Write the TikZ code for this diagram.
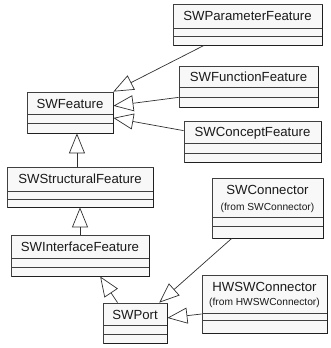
\documentclass[tikz,border=0pt]{standalone}
\usepackage{fontspec}
\setmainfont{Liberation Sans}
\usetikzlibrary{fit,calc,arrows.meta}

\definecolor{boxline}{HTML}{404040}
\definecolor{boxfill}{HTML}{F8F8F8}
\definecolor{shadowc}{HTML}{202020}
\definecolor{linec}{HTML}{303030}
\definecolor{textc}{HTML}{1A1A1A}

\tikzset{
  cls/.style={draw=boxline, fill=boxfill, line width=0.8pt, inner sep=0pt},
  divider/.style={draw=boxline, line width=0.8pt},
  boxshade/.style={draw=shadowc, line width=1.4pt},
  nametext/.style={font=\fontsize{13.2}{15}\selectfont, text=textc, inner sep=0pt},
  fromtext/.style={font=\fontsize{10.2}{12}\selectfont, text=textc, inner sep=0pt},
  inh/.style={draw=linec, line width=0.7pt,
    -{Triangle[open, length=20pt, width=16pt, line width=0.7pt]}},
}

% UML class box: name, top-left x y, bottom-right x y, two divider heights
\newcommand\umlclass[7]{%
  \node[cls, fit={(#2,#3) (#4,#5)}] (#1) {};
  \draw[boxshade] (#2+1,#5+0.6) -- (#4+0.6,#5+0.6) -- (#4+0.6,#3+1);
  \draw[divider] (#2,#6) -- (#4,#6);
  \draw[divider] (#2,#7) -- (#4,#7);
}

\begin{document}
\begin{tikzpicture}[x=1pt, y=-1pt]
\useasboundingbox (0,0) rectangle (330,348);

% class boxes
\umlclass{param}{173}{4}{322}{45}{28}{36}
\umlclass{func}{179}{66}{318}{107}{87}{97}
\umlclass{feat}{27}{92}{113}{133}{114}{123}
\umlclass{concept}{184}{121}{321}{162}{143}{153}
\umlclass{struct}{7}{167}{153}{207}{191}{199}
\umlclass{iface}{11}{235}{149}{276}{258}{267}
\umlclass{port}{103}{303}{167}{343}{325}{334}
\umlclass{sconn}{212}{178}{323}{238}{217}{226}
\umlclass{hwsw}{202}{275}{327}{333}{313}{320}

% class names
\node[nametext] (paramname) at (247.5,16) {SWParameterFeature};
\node[nametext] (funcname) at (248.5,77) {SWFunctionFeature};
\node[nametext] (featname) at (70,104) {SWFeature};
\node[nametext] (conceptname) at (252.5,133) {SWConceptFeature};
\node[nametext] (structname) at (80,179) {SWStructuralFeature};
\node[nametext] (ifacename) at (80,247) {SWInterfaceFeature};
\node[nametext] (portname) at (135,315) {SWPort};
\node[nametext] (sconnname) at (267.5,190) {SWConnector};
\node[fromtext] (sconnfrom) at (267.5,208) {(from SWConnector)};
\node[nametext] (hwswname) at (264.5,287) {HWSWConnector};
\node[fromtext] (hwswfrom) at (264.5,303) {(from HWSWConnector)};

% generalisations
\draw[inh] ($(param.south west)!0.21!(param.south east)$) -- (feat.north east);
\draw[inh] ($(func.north west)!0.76!(func.south west)$) -- ($(feat.north east)!0.34!(feat.south east)$);
\draw[inh] ($(concept.north west)!0.24!(concept.south west)$) -- ($(feat.north east)!0.63!(feat.south east)$);
\coordinate (featbot) at ($(feat.south west)!0.58!(feat.south east)$);
\draw[inh] (struct.north -| featbot) -- (featbot);
\coordinate (structbot) at ($(struct.south west)!0.5!(struct.south east)$);
\draw[inh] (iface.north -| structbot) -- (structbot);
\draw[inh] ($(port.north west)!0.23!(port.north east)$) -- ($(iface.south west)!0.645!(iface.south east)$);
\draw[inh] ($(sconn.south west)!0.18!(sconn.south east)$) -- ($(port.north west)!0.875!(port.north east)$);
\draw[inh] ($(hwsw.north west)!0.67!(hwsw.south west)$) -- ($(port.north east)!0.375!(port.south east)$);
\end{tikzpicture}
\end{document}
